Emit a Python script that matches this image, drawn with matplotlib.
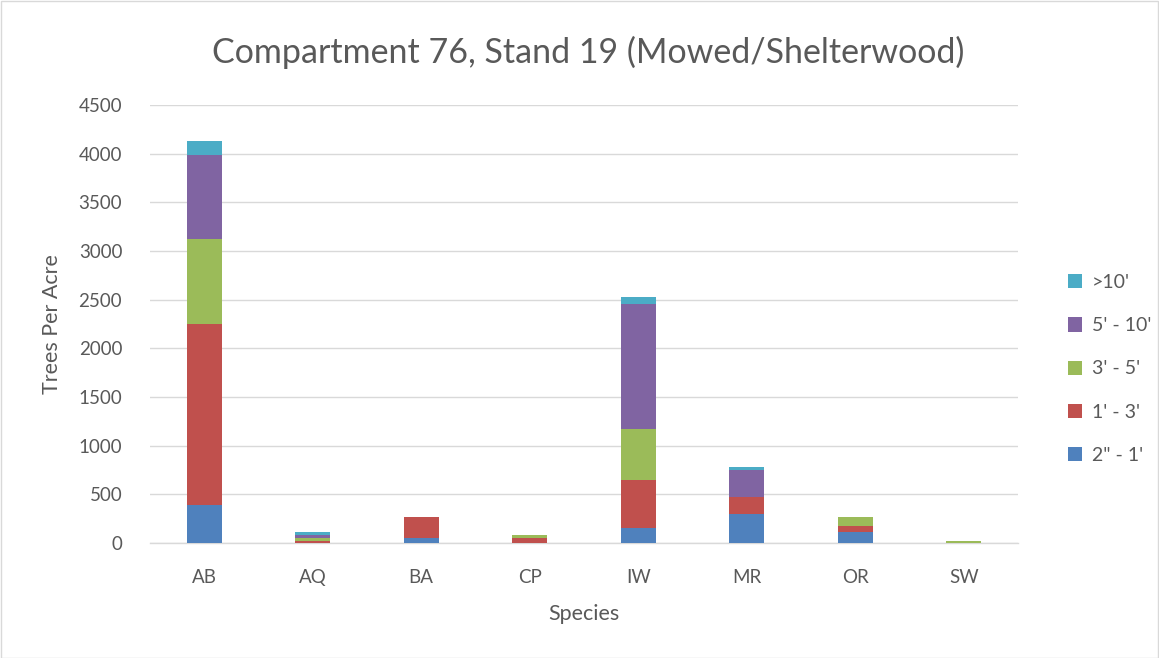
import matplotlib
matplotlib.use("Agg")
import matplotlib.pyplot as plt
import numpy as np

species = ["AB", "AQ", "BA", "CP", "IW", "MR", "OR", "SW"]
series_names = ["2\" - 1'", "1' - 3'", "3' - 5'", "5' - 10'", ">10'"]
s_2in_1ft = [390, 0, 55, 0, 150, 295, 110, 0]
s_1_3 = [1860, 20, 215, 50, 500, 180, 65, 0]
s_3_5 = [870, 35, 0, 35, 520, 0, 90, 25]
s_5_10 = [865, 30, 0, 0, 1290, 270, 0, 0]
s_gt10 = [150, 30, 0, 0, 65, 35, 0, 0]
colors = ["#4F81BD", "#C0504D", "#9BBB59", "#8064A2", "#4BACC6"]
yticks = [0, 500, 1000, 1500, 2000, 2500, 3000, 3500, 4000, 4500]

plt.rcParams['font.family'] = ['Lato', 'DejaVu Sans']
fig = plt.figure(figsize=(11.59, 6.58), dpi=100)
ax = fig.add_axes([150/1159, 1 - 543/658, (1018-150)/1159, (543-105)/658])

x = np.arange(len(species))
bottom = np.zeros(len(species))
handles = []
for name, vals, c in zip(series_names, [s_2in_1ft, s_1_3, s_3_5, s_5_10, s_gt10], colors):
    v = np.array(vals, dtype=float)
    h = ax.bar(x, v, bottom=bottom, width=0.32, color=c, label=name, zorder=3)
    handles.append(h)
    bottom += v

ax.set_xlim(-0.5, len(species) - 0.5)
ax.set_ylim(0, 4500)
ax.set_yticks(yticks)
ax.set_xticks(x)
ax.set_xticklabels(species)
ax.grid(axis='y', color='#D9D9D9', linewidth=1, zorder=0)
for s in ['top', 'right', 'left']:
    ax.spines[s].set_visible(False)
ax.spines['bottom'].set_color('#D9D9D9')
ax.spines['bottom'].set_linewidth(1)
ax.tick_params(axis='both', length=0, labelsize=13.5, colors='#595959')
ax.tick_params(axis='y', pad=20)
ax.tick_params(axis='x', pad=19)
ax.set_xlabel("Species", fontsize=15.5, color='#595959', labelpad=13)
ax.set_ylabel("Trees Per Acre", fontsize=15.5, color='#595959', labelpad=12)

fig.text(588/1159, 1 - 52/658, "Compartment 76, Stand 19 (Mowed/Shelterwood)",
         ha='center', va='center', fontsize=24.5, color='#595959')

leg = fig.legend(handles[::-1], series_names[::-1], loc='center left',
                 bbox_to_anchor=(1050/1159, 1 - 369/658), frameon=False,
                 fontsize=14, labelcolor='#595959', handlelength=0.75,
                 handleheight=0.75, labelspacing=1.35, handletextpad=0.5)

fig.add_artist(plt.Rectangle((0.5/1159, 0.5/658), 1 - 1.5/1159, 1 - 1.5/658,
                             transform=fig.transFigure, fill=False,
                             edgecolor='#D9D9D9', linewidth=1))
fig.savefig("out.png", dpi=100)
